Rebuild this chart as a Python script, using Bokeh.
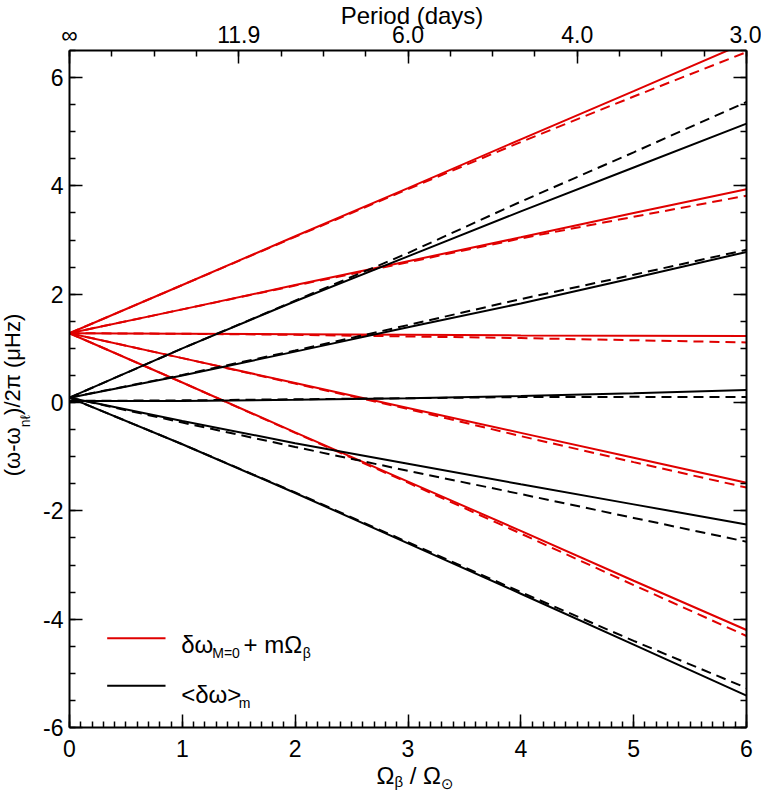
import math
from bokeh.plotting import figure
from bokeh.models import Range1d, LinearAxis, FixedTicker, Label, Div
from bokeh.layouts import column
from bokeh.embed import file_html
from bokeh.resources import INLINE

# ---------------- data ----------------
xs = [0, 1, 2, 3, 4, 5, 6]

red_solid = {
    -2: [1.28, 0.37, -0.55, -1.46, -2.37, -3.29, -4.20],
    -1: [1.28, 0.82, 0.36, -0.10, -0.56, -1.02, -1.48],
    0: [1.28, 1.27, 1.26, 1.25, 1.24, 1.235, 1.23],
    1: [1.28, 1.72, 2.17, 2.61, 3.05, 3.50, 3.94],
    2: [1.28, 2.17, 3.07, 3.96, 4.86, 5.75, 6.65],
}
red_dashed = {
    -2: [1.28, 0.37, -0.56, -1.48, -2.42, -3.37, -4.31],
    -1: [1.28, 0.82, 0.35, -0.12, -0.62, -1.10, -1.57],
    0: [1.28, 1.27, 1.25, 1.22, 1.19, 1.15, 1.11],
    1: [1.28, 1.72, 2.16, 2.59, 3.03, 3.43, 3.82],
    2: [1.28, 2.17, 3.06, 3.94, 4.81, 5.65, 6.47],
}
black_solid = {
    -2: [0.09, -0.77, -1.67, -2.60, -3.53, -4.47, -5.41],
    -1: [0.09, -0.34, -0.75, -1.13, -1.51, -1.88, -2.25],
    0: [0.03, 0.03, 0.05, 0.08, 0.12, 0.17, 0.23],
    1: [0.09, 0.50, 0.94, 1.39, 1.83, 2.30, 2.78],
    2: [0.09, 1.00, 1.87, 2.70, 3.53, 4.34, 5.15],
}
black_dashed = {
    -2: [0.09, -0.77, -1.66, -2.58, -3.50, -4.40, -5.27],
    -1: [0.09, -0.37, -0.82, -1.26, -1.69, -2.13, -2.57],
    0: [0.03, 0.04, 0.06, 0.08, 0.10, 0.105, 0.10],
    1: [0.09, 0.51, 0.96, 1.43, 1.91, 2.36, 2.82],
    2: [0.09, 1.00, 1.88, 2.76, 3.71, 4.62, 5.55],
}

x_ticks = [0, 1, 2, 3, 4, 5, 6]
y_ticks = [-6, -4, -2, 0, 2, 4, 6]
top_ticks = [0, 1.5, 3, 4.5, 6]
top_labels = ["\u221e", "11.9", "6.0", "4.0", "3.0"]

RED = "#e00000"
FONT = "Liberation Sans"

p = figure(width=761, height=787, output_backend="svg", toolbar_location=None,
           x_range=Range1d(0, 6), y_range=Range1d(-6, 6.5),
           x_axis_location=None, y_axis_location=None,
           min_border_left=69, min_border_top=50, min_border_right=15,
           min_border_bottom=60)
p.xgrid.visible = False
p.ygrid.visible = False
p.outline_line_color = None
p.background_fill_color = "white"
p.border_fill_color = "white"


def style(ax):
    ax.axis_line_width = 2
    ax.axis_line_color = "black"
    ax.major_tick_in = 13
    ax.major_tick_out = 0
    ax.minor_tick_in = 6
    ax.minor_tick_out = 0
    ax.major_tick_line_width = 1.5
    ax.minor_tick_line_width = 1.5
    ax.major_tick_line_color = "black"
    ax.minor_tick_line_color = "black"
    ax.major_label_text_font = FONT
    ax.major_label_text_font_size = "23px"
    ax.major_label_text_color = "black"


bottom = LinearAxis(ticker=FixedTicker(ticks=x_ticks,
                    minor_ticks=[i / 10 for i in range(61)]),
                    major_label_overrides={t: str(t) for t in x_ticks})
style(bottom)
bottom.major_label_standoff = 12
p.add_layout(bottom, "below")

top = LinearAxis(ticker=FixedTicker(ticks=top_ticks,
                 minor_ticks=[i * 0.375 for i in range(17)]),
                 major_label_overrides={t: l for t, l in zip(top_ticks, top_labels)})
style(top)
top.major_label_standoff = 3
p.add_layout(top, "above")

left = LinearAxis(ticker=FixedTicker(ticks=y_ticks,
                  minor_ticks=[-6 + i * 0.5 for i in range(26)]),
                  major_label_overrides={t: str(t) for t in y_ticks})
style(left)
left.major_label_standoff = 6
p.add_layout(left, "left")

right = LinearAxis(ticker=FixedTicker(ticks=y_ticks,
                   minor_ticks=[-6 + i * 0.5 for i in range(26)]),
                   major_label_overrides={t: "" for t in y_ticks})
style(right)
right.major_label_standoff = 0
p.add_layout(right, "right")

# ---------------- data lines ----------------
for m in [-2, -1, 0, 1, 2]:
    p.line(xs, black_dashed[m], line_color="black", line_width=2, line_dash="10 6")
    p.line(xs, black_solid[m], line_color="black", line_width=2)
    p.line(xs, red_dashed[m], line_color=RED, line_width=2, line_dash="10 6")
    p.line(xs, red_solid[m], line_color=RED, line_width=2)

# ---------------- legend ----------------
p.line([0.334, 0.851], [-4.351, -4.351], line_color=RED, line_width=2)
p.line([0.334, 0.851], [-5.23, -5.23], line_color="black", line_width=2)


def lab(x, y, text, size, font=FONT):
    p.add_layout(Label(x=x, y=y, text=text, text_font=font,
                       text_font_size=size, text_color="black",
                       text_align="left", text_baseline="alphabetic"))


lab(0.990, -4.460, "\u03b4\u03c9", "24px")
lab(1.265, -4.626, "M=0", "14px")
lab(1.542, -4.460, "+ m\u03a9", "24px")
lab(2.068, -4.626, "\u03b2", "14px")

lab(0.990, -5.383, "<\u03b4\u03c9>", "24px")
lab(1.500, -5.549, "m", "14px")

# ---------------- axis titles (HTML, for sub-scripts) ----------------
base = "font-family:'Liberation Sans',sans-serif;font-size:24px;white-space:nowrap;color:black;"
ybase = "font-family:'Liberation Sans',sans-serif;font-size:22px;white-space:nowrap;color:black;"

top_title = Div(text=f'<span style="{base}">Period (days)</span>',
                width=200, height=30,
                styles={"position": "absolute", "left": "307px", "top": "-6px",
                        "text-align": "center"})

x_title = Div(text=(f'<span style="{base}">\u03a9<span style="font-size:15px;'
                    f'vertical-align:-3px">\u03b2</span> / \u03a9<span style="font-size:15px;'
                    f"font-family:'DejaVu Sans';vertical-align:-5px\">\u2299</span></span>"),
              width=160, height=34,
              styles={"position": "absolute", "left": "330px", "top": "754px",
                      "text-align": "center"})

y_title = Div(text=(f'<span style="{ybase}">(\u03c9-\u03c9<span style="font-size:14px;'
                    f'vertical-align:-10px">n\u2113</span>)/2\u03c0 (\u03bcHz)</span>'),
              width=220, height=34,
              styles={"position": "absolute", "left": "-101px", "top": "373px",
                      "text-align": "center", "transform": "rotate(-90deg)"})

layout = column(p, top_title, x_title, y_title)

open("out.html", "w").write(file_html(layout, INLINE))
